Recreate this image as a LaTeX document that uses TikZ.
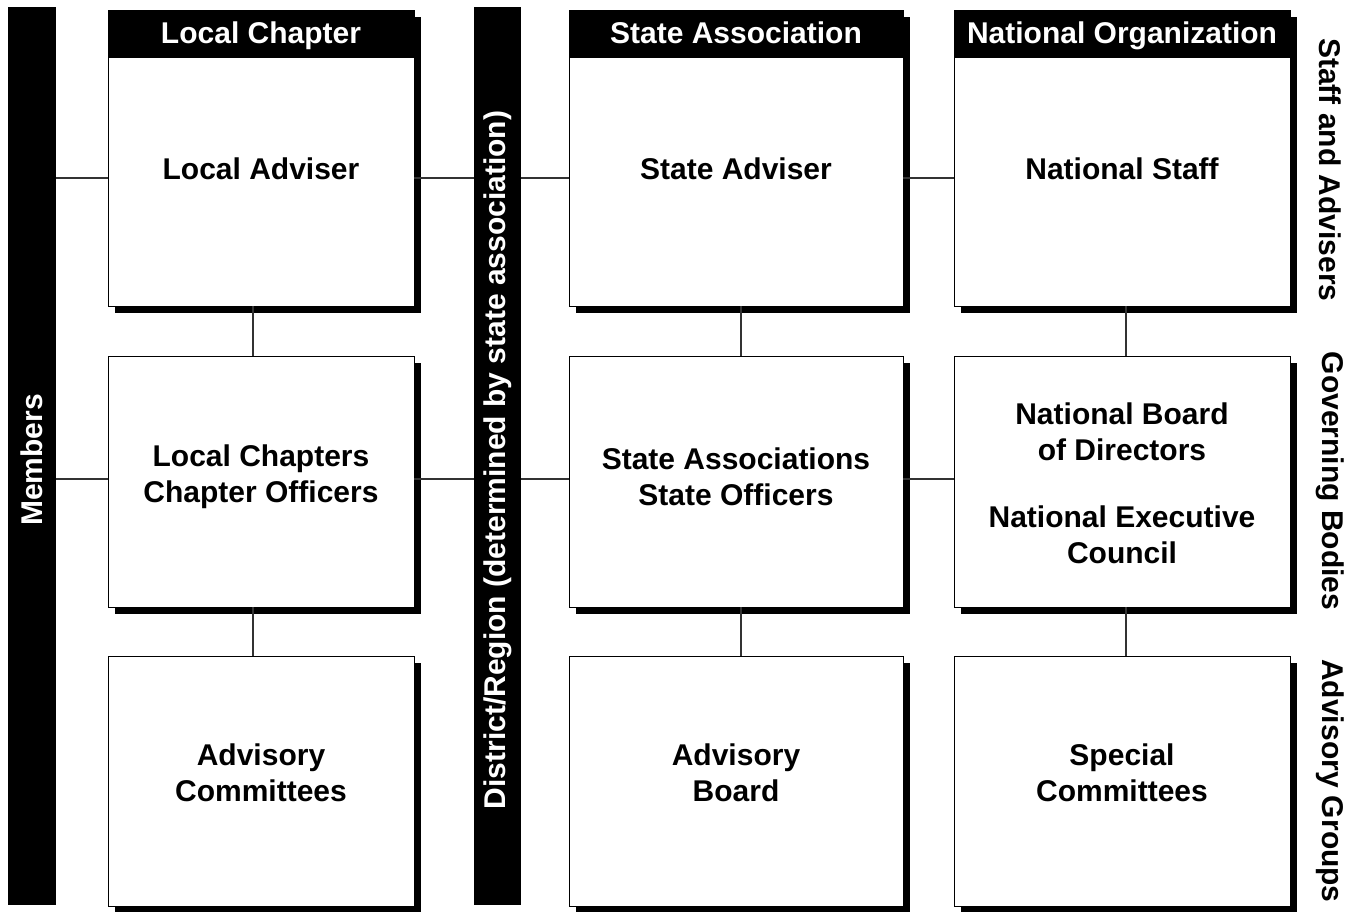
\documentclass[tikz,border=0pt]{standalone}
\usepackage{fontspec}
\setmainfont{Liberation Sans}
\usetikzlibrary{shadows}
\begin{document}
\begin{tikzpicture}[x=1pt,y=-1pt,
  font=\fontsize{30}{36}\selectfont\bfseries,
  sh/.style={drop shadow={shadow xshift=7pt,shadow yshift=-7pt,opacity=1,fill=black}},
  box/.style={draw=black,line width=0.8pt,fill=white,sh,inner sep=0pt},
  hdr/.style={draw=black,line width=0.8pt,fill=black,text=white,sh,inner sep=0pt,minimum height=47,text height=23pt,text depth=3pt},
  bar/.style={fill=black,inner sep=0pt},
  txt/.style={align=center,inner sep=0pt},
  link/.style={line width=1.3pt,draw=black!80},
]
\useasboundingbox (0,0) rectangle (1359,912);
% side bars
\node[bar,minimum width=48,minimum height=898] (mem) at (32,456) {};
\node[rotate=90,text=white,inner sep=0pt] (memt) at (32,460) {Members};
\node[bar,minimum width=47,minimum height=898] (dist) at (497.5,456) {};
\node[rotate=90,text=white,inner sep=0pt] (distt) at (497.5,460) {District/Region (determined by state association)};
% Local column
\node[hdr,minimum width=306] (lh) at (261,33.5) {Local Chapter};
\node[box,minimum width=306,minimum height=249] (la) at (261,181.5) {};
\node[box,minimum width=306,minimum height=251] (lc) at (261,481.5) {};
\node[box,minimum width=306,minimum height=250] (lk) at (261,781) {};
% State column
\node[hdr,minimum width=334] (sh) at (736,33.5) {State Association};
\node[box,minimum width=334,minimum height=249] (sa) at (736,181.5) {};
\node[box,minimum width=334,minimum height=251] (sc) at (736,481.5) {};
\node[box,minimum width=334,minimum height=250] (sk) at (736,781) {};
% National column
\node[hdr,minimum width=336] (nh) at (1122,33.5) {National Organization};
\node[box,minimum width=336,minimum height=249] (na) at (1122,181.5) {};
\node[box,minimum width=336,minimum height=251] (nc) at (1122,481.5) {};
\node[box,minimum width=336,minimum height=250] (nk) at (1122,781) {};
% texts
\node[txt] (lat) at (261,169) {Local Adviser};
\node[txt] (lct) at (261,477) {Local Chapters\\Chapter Officers};
\node[txt] (lkt) at (261,773) {Advisory\\Committees};
\node[txt] (sat) at (736,169) {State Adviser};
\node[txt] (sct) at (736,477) {State Associations\\State Officers};
\node[txt] (skt) at (736,773) {Advisory\\Board};
\node[txt] (nat) at (1122,169) {National Staff};
\node[txt] (nct) at (1122,483) {National Board\\of Directors\\[31pt]National Executive\\Council};
\node[txt] (nkt) at (1122,773) {Special\\Committees};
% right labels
\node[rotate=-90,inner sep=0pt] (g1) at (1330,170) {Staff and Advisers};
\node[rotate=-90,inner sep=0pt] (g2) at (1330,481) {Governing Bodies};
\node[rotate=-90,inner sep=0pt] (g3) at (1330,781) {Advisory Groups};
% connectors
\coordinate (r1) at (0,178);
\coordinate (r2) at (0,479);
\coordinate (c1) at (253,0);
\coordinate (c2) at (741,0);
\coordinate (c3) at (1126,0);
\foreach \r in {r1,r2}{
  \draw[link] (mem.east |- \r) -- (la.west |- \r);
  \draw[link] (la.east |- \r) -- (dist.west |- \r);
  \draw[link] (dist.east |- \r) -- (sa.west |- \r);
  \draw[link] (sa.east |- \r) -- (na.west |- \r);
}
\draw[link] (la.south -| c1) -- (lc.north -| c1);
\draw[link] (lc.south -| c1) -- (lk.north -| c1);
\draw[link] (sa.south -| c2) -- (sc.north -| c2);
\draw[link] (sc.south -| c2) -- (sk.north -| c2);
\draw[link] (na.south -| c3) -- (nc.north -| c3);
\draw[link] (nc.south -| c3) -- (nk.north -| c3);
\end{tikzpicture}
\end{document}
